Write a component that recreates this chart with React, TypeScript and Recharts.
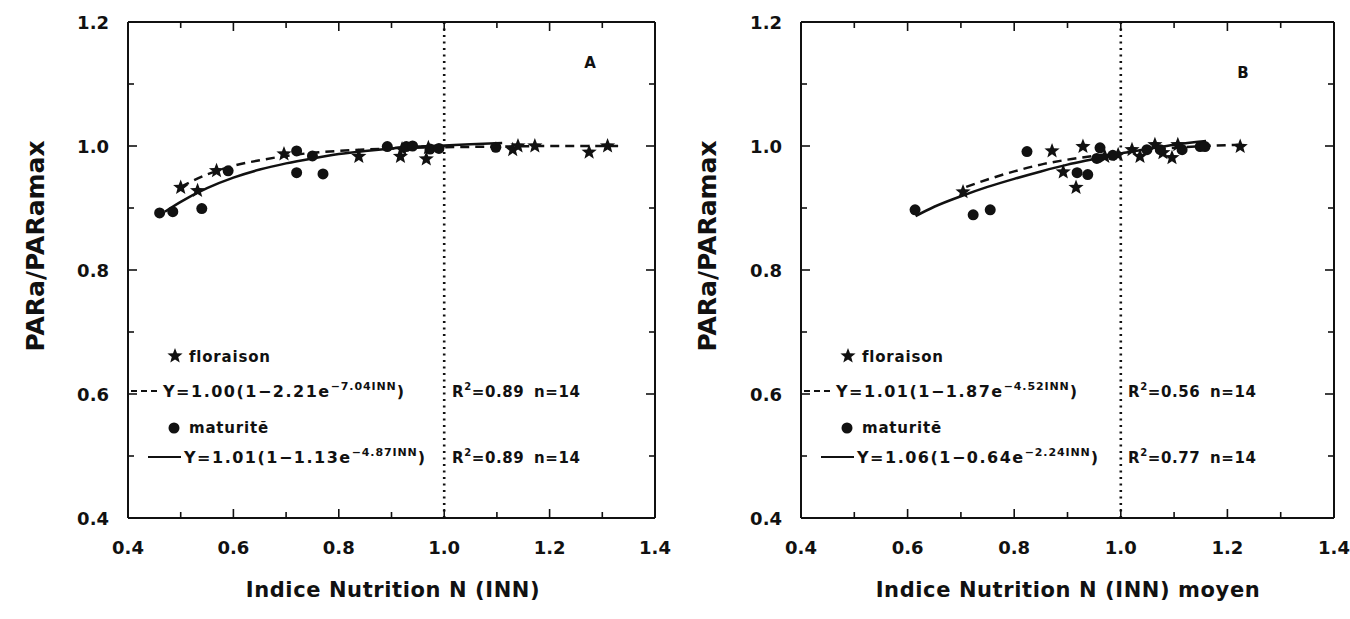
import React from 'react';
import { ComposedChart, Scatter, Line, XAxis, YAxis, ReferenceLine } from 'recharts';

const xTicks = [0.4, 0.5, 0.6, 0.7, 0.8, 0.9, 1.0, 1.1, 1.2, 1.3, 1.4];
const yTicks = [0.4, 0.5, 0.6, 0.7, 0.8, 0.9, 1.0, 1.1, 1.2];

// Panel A – points
const floraisonA = [
  { x: 0.5, y: 0.933 }, { x: 0.532, y: 0.928 }, { x: 0.568, y: 0.96 }, { x: 0.696, y: 0.987 },
  { x: 0.838, y: 0.983 }, { x: 0.917, y: 0.983 }, { x: 0.92, y: 0.995 }, { x: 0.966, y: 0.979 },
  { x: 0.97, y: 0.997 }, { x: 1.13, y: 0.994 }, { x: 1.14, y: 1.0 }, { x: 1.172, y: 1.0 },
  { x: 1.275, y: 0.99 }, { x: 1.31, y: 1.0 },
];
const maturiteA = [
  { x: 0.46, y: 0.892 }, { x: 0.485, y: 0.894 }, { x: 0.54, y: 0.899 }, { x: 0.59, y: 0.96 },
  { x: 0.72, y: 0.992 }, { x: 0.72, y: 0.957 }, { x: 0.75, y: 0.984 }, { x: 0.77, y: 0.955 },
  { x: 0.892, y: 0.999 }, { x: 0.928, y: 0.999 }, { x: 0.94, y: 1.0 }, { x: 0.973, y: 0.995 },
  { x: 0.99, y: 0.996 }, { x: 1.098, y: 0.998 },
];
// Panel A – fitted curves
const fitFloraisonA = [
  { x: 0.5, y: 0.934 }, { x: 0.55, y: 0.954 }, { x: 0.6, y: 0.968 }, { x: 0.65, y: 0.977 },
  { x: 0.7, y: 0.984 }, { x: 0.75, y: 0.989 }, { x: 0.8, y: 0.992 }, { x: 0.9, y: 0.996 },
  { x: 1.0, y: 0.998 }, { x: 1.1, y: 0.999 }, { x: 1.2, y: 1.0 }, { x: 1.33, y: 1.0 },
];
const fitMaturiteA = [
  { x: 0.47, y: 0.894 }, { x: 0.5, y: 0.91 }, { x: 0.55, y: 0.932 }, { x: 0.6, y: 0.949 },
  { x: 0.65, y: 0.962 }, { x: 0.7, y: 0.972 }, { x: 0.75, y: 0.98 }, { x: 0.8, y: 0.987 },
  { x: 0.85, y: 0.992 }, { x: 0.9, y: 0.996 }, { x: 0.95, y: 0.999 }, { x: 1.0, y: 1.001 },
  { x: 1.05, y: 1.003 }, { x: 1.11, y: 1.005 },
];

// Panel B – points
const floraisonB = [
  { x: 0.704, y: 0.926 }, { x: 0.871, y: 0.992 }, { x: 0.892, y: 0.958 }, { x: 0.916, y: 0.933 },
  { x: 0.929, y: 0.999 }, { x: 0.97, y: 0.983 }, { x: 0.995, y: 0.986 }, { x: 1.021, y: 0.994 },
  { x: 1.036, y: 0.983 }, { x: 1.064, y: 1.002 }, { x: 1.079, y: 0.989 }, { x: 1.096, y: 0.981 },
  { x: 1.107, y: 1.002 }, { x: 1.224, y: 0.999 },
];
const maturiteB = [
  { x: 0.614, y: 0.897 }, { x: 0.723, y: 0.889 }, { x: 0.755, y: 0.897 }, { x: 0.824, y: 0.991 },
  { x: 0.918, y: 0.957 }, { x: 0.938, y: 0.954 }, { x: 0.955, y: 0.98 }, { x: 0.961, y: 0.997 },
  { x: 0.985, y: 0.985 }, { x: 1.049, y: 0.994 }, { x: 1.074, y: 0.994 }, { x: 1.115, y: 0.994 },
  { x: 1.149, y: 0.999 }, { x: 1.158, y: 0.999 },
];
const fitFloraisonB = [
  { x: 0.71, y: 0.934 }, { x: 0.75, y: 0.946 }, { x: 0.8, y: 0.959 }, { x: 0.85, y: 0.97 },
  { x: 0.9, y: 0.978 }, { x: 0.95, y: 0.984 }, { x: 1.0, y: 0.989 }, { x: 1.05, y: 0.994 },
  { x: 1.1, y: 0.997 }, { x: 1.15, y: 0.9996 }, { x: 1.22, y: 1.002 },
];
const fitMaturiteB = [
  { x: 0.615, y: 0.887 }, { x: 0.65, y: 0.902 }, { x: 0.7, y: 0.919 }, { x: 0.75, y: 0.934 },
  { x: 0.8, y: 0.947 }, { x: 0.85, y: 0.959 }, { x: 0.9, y: 0.97 }, { x: 0.95, y: 0.979 },
  { x: 1.0, y: 0.988 }, { x: 1.05, y: 0.995 }, { x: 1.1, y: 1.002 }, { x: 1.16, y: 1.008 },
];

const FONT = "'DejaVu Sans', 'Liberation Sans', Arial, sans-serif";
const INK = '#111';

const isMajor = (v: number) => Math.round(v * 10) % 2 === 0;

const BottomTick = (p: any) => {
  const { x, y, payload } = p;
  const v = payload.value;
  const m = isMajor(v);
  return (
    <g>
      <line x1={x} y1={y} x2={x} y2={y - (m ? 9 : 6)} stroke={INK} strokeWidth={1.6} />
      {m && (
        <text x={x} y={y + 36} textAnchor="middle" fontFamily={FONT} fontWeight="bold" fontSize={18} fill={INK}>
          {v.toFixed(1)}
        </text>
      )}
    </g>
  );
};
const TopTick = (p: any) => {
  const { x, y, payload } = p;
  const m = isMajor(payload.value);
  return <line x1={x} y1={y} x2={x} y2={y + (m ? 9 : 6)} stroke={INK} strokeWidth={1.6} />;
};
const LeftTick = (p: any) => {
  const { x, y, payload } = p;
  const v = payload.value;
  const m = isMajor(v);
  return (
    <g>
      <line x1={x} y1={y} x2={x + (m ? 9 : 6)} y2={y} stroke={INK} strokeWidth={1.6} />
      {m && (
        <text x={x - 19} y={y + 7} textAnchor="end" fontFamily={FONT} fontWeight="bold" fontSize={18} fill={INK}>
          {v.toFixed(1)}
        </text>
      )}
    </g>
  );
};
const RightTick = (p: any) => {
  const { x, y, payload } = p;
  const m = isMajor(payload.value);
  return <line x1={x} y1={y} x2={x - (m ? 9 : 6)} y2={y} stroke={INK} strokeWidth={1.6} />;
};

const starPoints = (cx: number, cy: number, R: number, r: number) => {
  const pts: string[] = [];
  for (let i = 0; i < 10; i++) {
    const rad = i % 2 === 0 ? R : r;
    const a = -Math.PI / 2 + (i * Math.PI) / 5;
    pts.push(`${cx + rad * Math.cos(a)},${cy + rad * Math.sin(a)}`);
  }
  return pts.join(' ');
};
const StarShape = (p: any) => <polygon points={starPoints(p.cx, p.cy, 8, 3.4)} fill={INK} />;
const DotShape = (p: any) => <circle cx={p.cx} cy={p.cy} r={5.5} fill={INK} />;

type PanelProps = {
  left: number;
  width: number;
  marginLeft: number;
  marginRight: number;
  flo: { x: number; y: number }[];
  mat: { x: number; y: number }[];
  fitFlo: { x: number; y: number }[];
  fitMat: { x: number; y: number }[];
};

const AX = 1;

const Panel = ({ left, width, marginLeft, marginRight, flo, mat, fitFlo, fitMat }: PanelProps) => (
  <div style={{ position: 'absolute', left, top: 0 }}>
    <ComposedChart width={width} height={619}
      margin={{ top: 22 - AX, left: marginLeft - AX, right: marginRight - AX, bottom: 101 - AX }}>
      <XAxis xAxisId="b" dataKey="x" type="number" domain={[0.4, 1.4]} ticks={xTicks} interval={0}
        height={AX} tickSize={0} tickMargin={0} tickLine={false} tick={<BottomTick />}
        axisLine={{ stroke: INK, strokeWidth: 2 }} allowDataOverflow />
      <XAxis xAxisId="t" orientation="top" dataKey="x" type="number" domain={[0.4, 1.4]} ticks={xTicks} interval={0}
        height={AX} tickSize={0} tickMargin={0} tickLine={false} tick={<TopTick />}
        axisLine={{ stroke: INK, strokeWidth: 2 }} allowDataOverflow />
      <YAxis yAxisId="l" dataKey="y" type="number" domain={[0.4, 1.2]} ticks={yTicks} interval={0}
        width={AX} tickSize={0} tickMargin={0} tickLine={false} tick={<LeftTick />}
        axisLine={{ stroke: INK, strokeWidth: 2 }} allowDataOverflow />
      <YAxis yAxisId="r" orientation="right" dataKey="y" type="number" domain={[0.4, 1.2]} ticks={yTicks} interval={0}
        width={AX} tickSize={0} tickMargin={0} tickLine={false} tick={<RightTick />}
        axisLine={{ stroke: INK, strokeWidth: 2 }} allowDataOverflow />
      <ReferenceLine xAxisId="b" yAxisId="l" x={1.0} stroke={INK} strokeWidth={2.6} strokeDasharray="2 4.5" />
      <Line xAxisId="b" yAxisId="l" data={fitFlo} dataKey="y" type="monotone" stroke={INK} strokeWidth={2.5}
        strokeDasharray="9 6" dot={false} activeDot={false} isAnimationActive={false} />
      <Line xAxisId="b" yAxisId="l" data={fitMat} dataKey="y" type="monotone" stroke={INK} strokeWidth={2.5}
        dot={false} activeDot={false} isAnimationActive={false} />
      <Scatter xAxisId="b" yAxisId="l" data={flo} dataKey="y" shape={<StarShape />} isAnimationActive={false} />
      <Scatter xAxisId="b" yAxisId="l" data={mat} dataKey="y" shape={<DotShape />} isAnimationActive={false} />
      <Scatter xAxisId="t" yAxisId="r" data={[]} dataKey="y" isAnimationActive={false} />
    </ComposedChart>
  </div>
);

const txt = { fontFamily: FONT, fontWeight: 'bold' as const, fill: INK };

const Equation = ({ x, y, main, sup }: { x: number; y: number; main: string; sup: string }) => (
  <text x={x} y={y} fontSize={16} letterSpacing={1.5} {...txt}>
    {main}
    <tspan dy={-7} fontSize={11} letterSpacing={0.9}>{sup}</tspan>
    <tspan dy={7} fontSize={16}>)</tspan>
  </text>
);
const R2 = ({ x, y, val }: { x: number; y: number; val: string }) => (
  <text x={x} y={y} fontSize={15} letterSpacing={0.6} {...txt}>
    R<tspan dy={-7} fontSize={10}>2</tspan><tspan dy={7}>={val}</tspan>
  </text>
);

const LegendBlock = ({ ox, eqFlo, supFlo, r2Flo, eqMat, supMat, r2Mat, r2x, nx }: any) => (
  <g>
    <polygon points={starPoints(ox + 47, 356, 8, 3.4)} fill={INK} />
    <text x={ox + 61} y={362} fontSize={15} letterSpacing={0.8} {...txt}>floraison</text>
    <line x1={ox + 3} y1={391} x2={ox + 32} y2={391} stroke={INK} strokeWidth={2} strokeDasharray="6 4" />
    <Equation x={ox + 35} y={397} main={eqFlo} sup={supFlo} />
    <R2 x={r2x} y={397} val={r2Flo} />
    <text x={nx} y={397} fontSize={15} letterSpacing={0.6} {...txt}>n=14</text>
    <circle cx={ox + 46} cy={428} r={5.5} fill={INK} />
    <text x={ox + 61} y={433} fontSize={15} letterSpacing={0.8} {...txt}>maturitĕ</text>
    <line x1={ox + 20} y1={457} x2={ox + 53} y2={457} stroke={INK} strokeWidth={2} />
    <Equation x={ox + 56} y={463} main={eqMat} sup={supMat} />
    <R2 x={r2x} y={463} val={r2Mat} />
    <text x={nx} y={463} fontSize={15} letterSpacing={0.6} {...txt}>n=14</text>
  </g>
);

export default function App() {
  return (
    <div style={{ position: 'absolute', left: 0, top: 0, width: 1350, height: 619, background: '#fff' }}>
      <Panel left={0} width={675} marginLeft={128} marginRight={20} flo={floraisonA} mat={maturiteA}
        fitFlo={fitFloraisonA} fitMat={fitMaturiteA} />
      <Panel left={672} width={678} marginLeft={129} marginRight={16} flo={floraisonB} mat={maturiteB}
        fitFlo={fitFloraisonB} fitMat={fitMaturiteB} />
      <svg width={1350} height={619} style={{ position: 'absolute', left: 0, top: 0, pointerEvents: 'none' }}>
        <text x={590} y={68} fontSize={15} textAnchor="middle" {...txt}>A</text>
        <text x={1243} y={78} fontSize={15} textAnchor="middle" {...txt}>B</text>
        <text transform="translate(44,246) rotate(-90)" textAnchor="middle" fontSize={25} {...txt}>PARa/PARamax</text>
        <text transform="translate(716,246) rotate(-90)" textAnchor="middle" fontSize={25} {...txt}>PARa/PARamax</text>
        <text x={393} y={597} textAnchor="middle" fontSize={21} letterSpacing={0.6} {...txt}>Indice Nutrition N (INN)</text>
        <text x={1068} y={597} textAnchor="middle" fontSize={21} letterSpacing={0.6} {...txt}>Indice Nutrition N (INN) moyen</text>
        <LegendBlock ox={128} eqFlo="Y=1.00(1−2.21e" supFlo="−7.04INN" r2Flo="0.89"
          eqMat="Y=1.01(1−1.13e" supMat="−4.87INN" r2Mat="0.89" r2x={452} nx={534} />
        <LegendBlock ox={801} eqFlo="Y=1.01(1−1.87e" supFlo="−4.52INN" r2Flo="0.56"
          eqMat="Y=1.06(1−0.64e" supMat="−2.24INN" r2Mat="0.77" r2x={1128} nx={1210} />
      </svg>
    </div>
  );
}
